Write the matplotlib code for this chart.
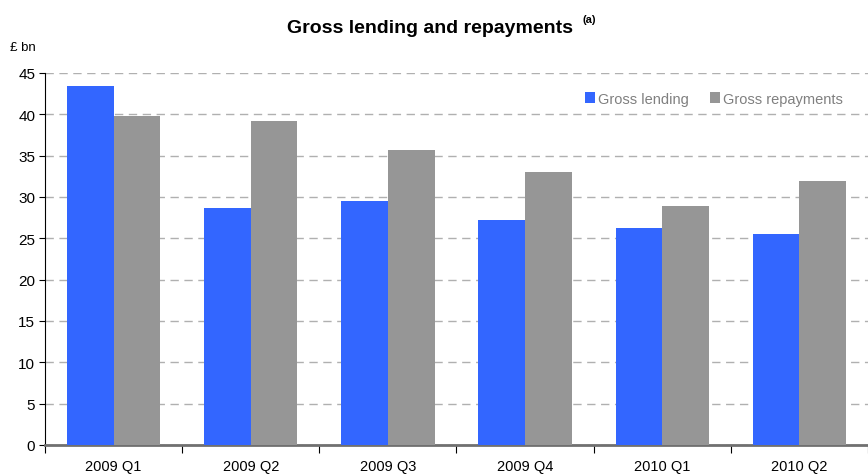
import numpy as np
import matplotlib.pyplot as plt

plt.rcParams['font.family'] = ['Liberation Sans', 'DejaVu Sans']

quarters = ["2009 Q1", "2009 Q2", "2009 Q3", "2009 Q4", "2010 Q1", "2010 Q2"]
lending = [43.4, 28.7, 29.5, 27.2, 26.2, 25.5]
repayments = [39.8, 39.2, 35.7, 33.0, 28.9, 31.9]

fig = plt.figure(figsize=(8.68, 4.77), dpi=100)
ax = fig.add_axes([45 / 868, 31 / 477, 823 / 868, 372 / 477])

x = np.arange(len(quarters))
w = 0.34
ax.bar(x - w / 2, lending, w, color="#3366ff", label="Gross lending", zorder=3)
ax.bar(x + w / 2, repayments, w, color="#969696", label="Gross repayments", zorder=3)

ax.set_ylim(0, 45)
ax.set_xlim(-0.5, -0.5 + 823 / 138)
ax.set_yticks(np.arange(0, 46, 5))
ax.yaxis.grid(True, linestyle=(0, (6, 4)), color="#b0b0b0", linewidth=1, zorder=0)

# category boundary ticks below axis, labels centred
ax.set_xticks(np.arange(-0.5, 6, 1))
ax.set_xticklabels([])
ax.set_xticks(x, minor=True)
ax.set_xticklabels(quarters, minor=True)
ax.tick_params(axis="x", which="major", length=6, direction="out", color="black")
ax.tick_params(axis="x", which="minor", length=0, pad=10, labelsize=10.5)
ax.tick_params(axis="y", length=4, direction="out", labelsize=11, pad=3)

for s in ["top", "right"]:
    ax.spines[s].set_visible(False)
ax.spines["left"].set_color("black")
ax.spines["bottom"].set_color("#707070")
ax.spines["bottom"].set_linewidth(2)

leg = ax.legend(loc="upper right", bbox_to_anchor=(0.985, 0.985), ncol=2, frameon=False,
                handlelength=0.7, handleheight=0.7, handletextpad=0.2, columnspacing=1.4,
                fontsize=10.5)
for t in leg.get_texts():
    t.set_color("#808080")

fig.text(0.495, 0.94, "Gross lending and repayments", ha="center",
         va="center", fontsize=14, fontweight="bold")
fig.text(0.671, 0.958, "(a)", ha="left", va="center", fontsize=8, fontweight="bold")
fig.text(0.012, 0.9, "£ bn", fontsize=9.5, va="center")

fig.savefig("out.png", dpi=100)
